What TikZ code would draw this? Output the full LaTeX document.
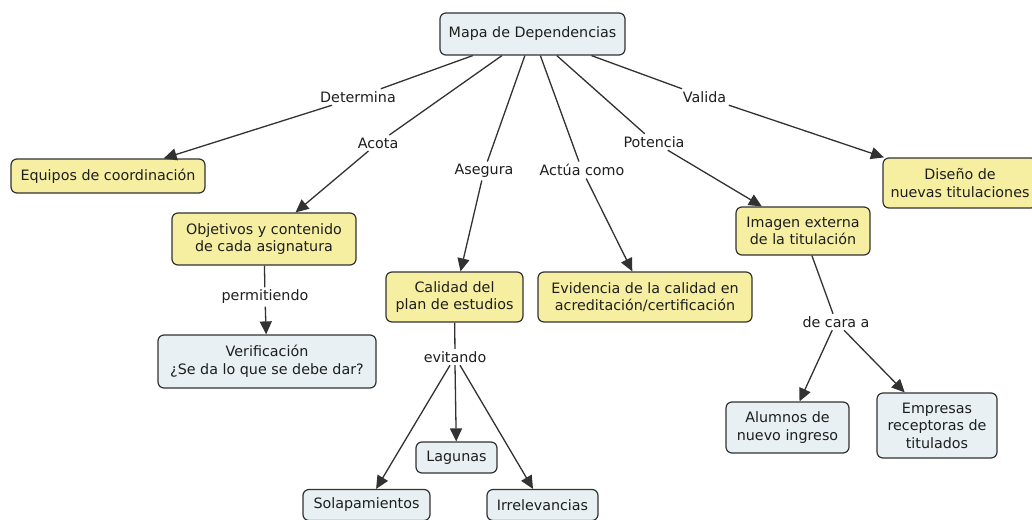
\documentclass[tikz,border=0pt]{standalone}
\usepackage{fontspec}
\setmainfont{DejaVu Sans}
\usetikzlibrary{arrows.meta}
\definecolor{yel}{RGB}{246,239,162}
\definecolor{blu}{RGB}{232,240,243}
\definecolor{edgec}{RGB}{50,50,50}
\definecolor{txt}{RGB}{30,30,30}
\begin{document}
\begin{tikzpicture}[x=1pt,y=-1pt,
  box/.style={draw=edgec, line width=1.2pt, rounded corners=6pt, align=center,
    inner sep=0pt, font=\fontsize{14.3}{17.5}\selectfont, text=txt},
  yb/.style={box, fill=yel},
  bb/.style={box, fill=blu},
  lab/.style={font=\fontsize{14.3}{17.5}\selectfont, inner sep=2.5pt, text=txt},
  ln/.style={draw=edgec, line width=1.3pt},
  arr/.style={ln, -{Triangle[length=13pt,width=12pt]}}]
\useasboundingbox (0,0) rectangle (1032,519);
\clip (0,0) rectangle (1032,519);
\fill[white] (0,0) rectangle (1032,519);

% concept nodes
\node[bb, minimum width=185pt, minimum height=42pt] (root) at (532.5,34) {Mapa de Dependencias};
\node[yb, minimum width=194pt, minimum height=34pt] (equipos) at (108,176) {Equipos de coordinación};
\node[yb, minimum width=184pt, minimum height=52pt] (objet) at (264,239) {Objetivos y contenido\\de cada asignatura};
\node[bb, minimum width=218pt, minimum height=53pt] (verif) at (267,361.5) {Verificación\\¿Se da lo que se debe dar?};
\node[yb, minimum width=137pt, minimum height=50pt] (calidad) at (454.5,297) {Calidad del\\plan de estudios};
\node[yb, minimum width=214pt, minimum height=50pt] (evid) at (645,297) {Evidencia de la calidad en\\acreditación/certificación};
\node[yb, minimum width=134pt, minimum height=48pt] (imagen) at (803,231) {Imagen externa\\de la titulación};
\node[yb, minimum width=154pt, minimum height=50pt] (diseno) at (960,183) {Diseño de\\nuevas titulaciones};
\node[bb, minimum width=81pt, minimum height=31pt] (lagunas) at (456.5,457.5) {Lagunas};
\node[bb, minimum width=127pt, minimum height=31pt] (sola) at (366.5,505) {Solapamientos};
\node[bb, minimum width=111pt, minimum height=31pt] (irrel) at (542.5,505) {Irrelevancias};
\node[bb, minimum width=123pt, minimum height=51pt] (alumnos) at (787.5,427.5) {Alumnos de\\nuevo ingreso};
\node[bb, minimum width=120pt, minimum height=65pt] (empresas) at (937,425.5) {Empresas\\receptoras de\\titulados};

% linking phrases
\node[lab] (det) at (358,97) {Determina};
\node[lab] (acota) at (378,143) {Acota};
\node[lab] (aseg) at (484,171) {Asegura};
\node[lab] (actua) at (582,170) {Actúa como};
\node[lab] (pot) at (654,142) {Potencia};
\node[lab] (val) at (704.5,97) {Valida};
\node[lab] (perm) at (265,297) {permitiendo};
\node[lab] (evit) at (455,357) {evitando};
\node[lab] (cara) at (836,322) {de cara a};

% connectors
\draw[ln] (root) -- (det);   \draw[arr] (det) -- (equipos);
\draw[ln] (root) -- (acota); \draw[arr] (acota) -- (objet);
\draw[ln] (root) -- (aseg);  \draw[arr] (aseg) -- (calidad);
\draw[ln] (root) -- (actua); \draw[arr] (actua) -- (evid);
\draw[ln] (root) -- (pot);   \draw[arr] (pot) -- (imagen);
\draw[ln] (root) -- (val);   \draw[arr] (val) -- (diseno);
\draw[ln] (objet) -- (perm); \draw[arr] (perm) -- (verif);
\draw[ln] (calidad) -- (evit);
\draw[arr] ([xshift=-5pt]evit.south) -- (sola);
\draw[arr] (evit.south) -- (lagunas);
\draw[arr] ([xshift=5pt]evit.south) -- (irrel);
\draw[ln] (imagen) -- (cara);
\draw[arr] (cara) -- (alumnos);
\draw[arr] (cara) -- (empresas);
\end{tikzpicture}
\end{document}
